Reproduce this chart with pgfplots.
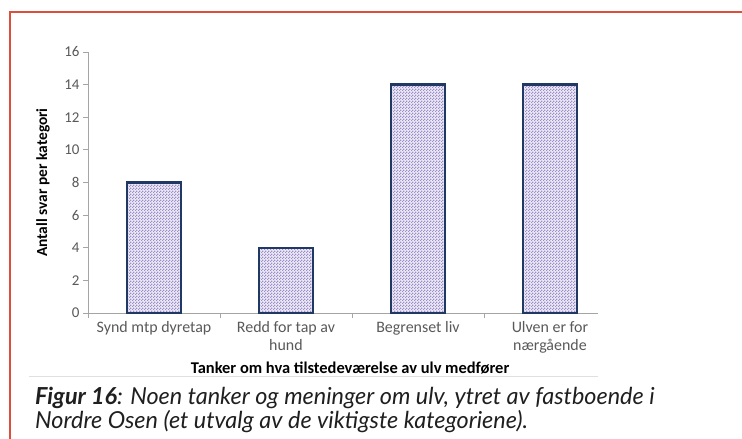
\documentclass[border=0pt]{standalone}
\usepackage{fontspec}
\usepackage{pgfplots}
\pgfplotsset{compat=1.18}
\usetikzlibrary{patterns}
\setmainfont{Carlito}
\newfontfamily\capfont{Lato}
\definecolor{framered}{RGB}{222,78,60}
\definecolor{barnavy}{RGB}{31,56,100}
\definecolor{barfill}{RGB}{238,235,247}
\definecolor{dotcol}{RGB}{155,142,203}
\definecolor{axgray}{RGB}{165,165,165}
\definecolor{ticktext}{RGB}{89,89,89}

% fine checkerboard like the office "small checker" fill
\pgfdeclarepatternformonly{checker}{\pgfqpoint{0pt}{0pt}}{\pgfqpoint{3bp}{3bp}}{\pgfqpoint{3bp}{3bp}}{
  \pgfpathrectangle{\pgfqpoint{0pt}{0pt}}{\pgfqpoint{1.5bp}{1.5bp}}
  \pgfpathrectangle{\pgfqpoint{1.5bp}{1.5bp}}{\pgfqpoint{1.5bp}{1.5bp}}
  \pgfusepath{fill}}

\begin{document}
\begin{tikzpicture}
\path[use as bounding box] (0,0) rectangle (742bp,-439bp);
\fill[white] (0,0) rectangle (742bp,-439bp);
% page frame and chart area edge
\draw[framered, line width=2.2bp] (742bp,-12bp) -- (10bp,-12bp) -- (10bp,-439bp);
\draw[black!12, line width=0.8bp] (29bp,-376bp) -- (598bp,-376bp);

\begin{axis}[
    at={(88bp,-313bp)}, anchor=south west,
    scale only axis, width=510bp, height=261bp,
    xmin=-0.5, xmax=3.364, ymin=0, ymax=16,
    axis x line*=bottom, axis y line*=left,
    axis line style={axgray, line width=0.8bp},
    ytick={0,2,...,16},
    xtick={0,1,2,3},
    xticklabels={Synd mtp dyretap, {Redd for tap av\\hund}, Begrenset liv, {Ulven er for\\nærgående}},
    minor xtick={-0.5,0.5,1.5,2.5},
    tick align=outside,
    major tick length=5bp, minor tick length=5bp,
    major x tick style={draw=none},
    minor x tick style={axgray, line width=0.8bp},
    y tick style={axgray, line width=0.8bp},
    /pgf/number format/assume math mode=true,
    tick label style={text=ticktext},
    yticklabel style={font=\fontsize{15}{17}\selectfont},
    xticklabel style={align=center, font=\fontsize{16}{18}\selectfont},
    ylabel={Antall svar per kategori},
    ylabel style={at={(axis description cs:-0.088,0.5)}, anchor=center, font=\bfseries\fontsize{15.5}{17}\selectfont},
    xlabel={Tanker om hva tilstedeværelse av ulv medfører},
    xlabel style={at={(axis description cs:0.514,-0.211)}, anchor=center, font=\bfseries\fontsize{16.5}{18}\selectfont},
]
\addplot[ybar, bar width=0.41, draw=barnavy, line width=2.5bp, fill=barfill,
    postaction={pattern=checker, pattern color=dotcol}]
    coordinates {(0,8) (1,4) (2,14) (3,14)};
\end{axis}

% figure caption
\node[anchor=base west, inner sep=0, text=black!88] at (35bp,-404bp)
    {\capfont\fontsize{23.5}{24}\selectfont\itshape\bfseries Figur 16\mdseries: Noen tanker og meninger om ulv, ytret av fastboende i};
\node[anchor=base west, inner sep=0, text=black!88] at (35bp,-428bp)
    {\capfont\fontsize{23.5}{24}\selectfont\itshape Nordre Osen (et utvalg av de viktigste kategoriene).};
\end{tikzpicture}
\end{document}
